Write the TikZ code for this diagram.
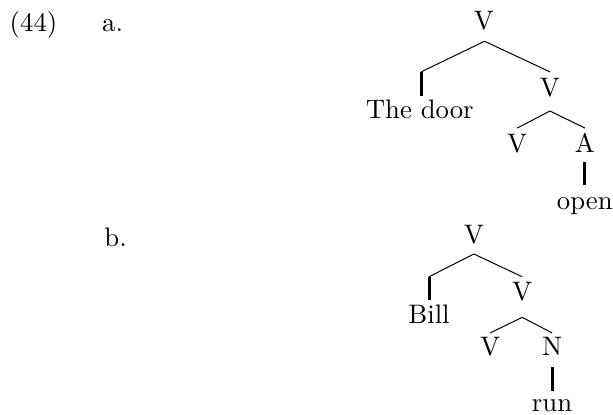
\documentclass[tikz,border=0pt]{standalone}
\usetikzlibrary{positioning}

\begin{document}
\begin{tikzpicture}[font={\fontsize{10.7}{13}\selectfont}, every node/.style={inner sep=0pt,anchor=base}, leafbar/.style={line width=1.2pt}]
  \useasboundingbox (0,0) rectangle (8.616,-5.833);
  % labels
  \node[anchor=base west] (ex) at (0.13,-0.44) {(44)};
  \node[anchor=base west] (exa) at (1.43,-0.44) {a.};
  \node[anchor=base west] (exb) at (1.46,-3.47) {b.};
  % tree a
  \node (av) at (6.80,-0.41) {V};
  \coordinate (aj) at (6.81,-0.58);
  \coordinate (al) at (5.92,-1.01);
  \coordinate (alb) at (5.92,-1.35);
  \node (door) at (5.90,-1.66) {The door};
  \node (avv) at (7.73,-1.35) {V};
  \coordinate (ar) at (7.73,-1.01);
  \coordinate (ajj) at (7.73,-1.56);
  \coordinate (avl) at (7.27,-1.80);
  \coordinate (aar) at (8.22,-1.80);
  \node (avb) at (7.27,-2.14) {V};
  \node (aa) at (8.22,-2.14) {A};
  \coordinate (aat) at (8.22,-2.28);
  \coordinate (aab) at (8.22,-2.60);
  \node (open) at (8.22,-2.94) {open};
  \draw (aj) -- (al);
  \draw (aj) -- (ar);
  \draw[leafbar] (al) -- (alb);
  \draw (ajj) -- (avl);
  \draw (ajj) -- (aar);
  \draw[leafbar] (aat) -- (aab);
  % tree b
  \node (bv) at (6.66,-3.42) {V};
  \coordinate (bj) at (6.66,-3.57);
  \coordinate (bl) at (6.03,-3.89);
  \coordinate (blb) at (6.03,-4.22);
  \node (bill) at (6.03,-4.54) {Bill};
  \coordinate (br) at (7.34,-3.89);
  \node (bvv) at (7.34,-4.22) {V};
  \coordinate (bjj) at (7.34,-4.46);
  \coordinate (bvl) at (6.89,-4.68);
  \coordinate (bnr) at (7.76,-4.68);
  \node (bvb) at (6.89,-4.99) {V};
  \node (bn) at (7.76,-4.99) {N};
  \coordinate (bnt) at (7.76,-5.16);
  \coordinate (bnb) at (7.76,-5.50);
  \node (run) at (7.76,-5.79) {run};
  \draw (bj) -- (bl);
  \draw (bj) -- (br);
  \draw[leafbar] (bl) -- (blb);
  \draw (bjj) -- (bvl);
  \draw (bjj) -- (bnr);
  \draw[leafbar] (bnt) -- (bnb);
\end{tikzpicture}
\end{document}
